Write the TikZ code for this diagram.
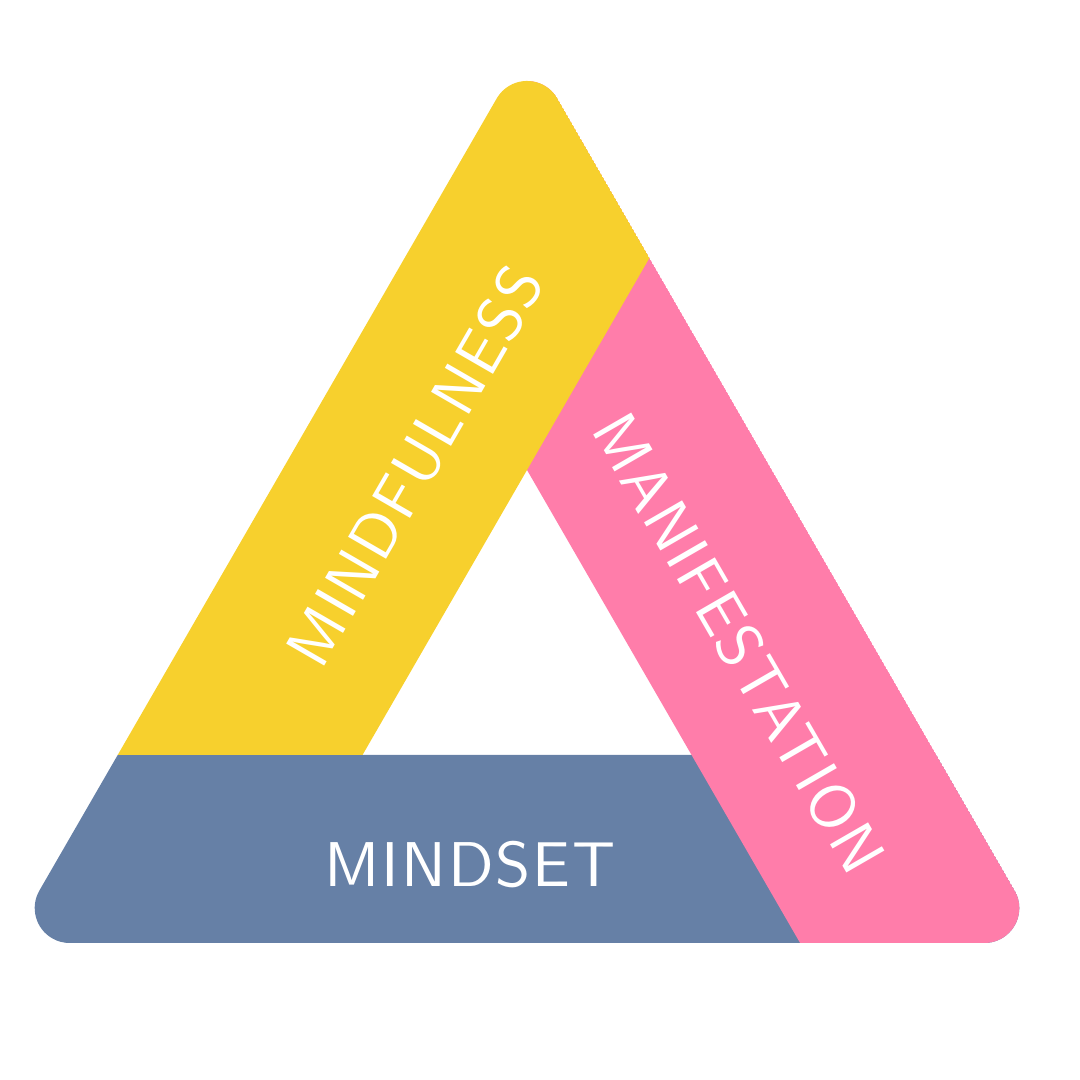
\documentclass[tikz,border=0pt]{standalone}
\usepackage{fontspec}
\newfontfamily\bandfont{lmsans10-regular.otf}[LetterSpace=3]
\usetikzlibrary{calc}
\definecolor{mindyellow}{HTML}{F7D02D}
\definecolor{manipink}{HTML}{FF7DAA}
\definecolor{setblue}{HTML}{6680A6}
\tikzset{
  bandtext/.style={text=white, inner sep=0pt, font=\bandfont\fontsize{18}{20}\selectfont}
}

\begin{document}
\begin{tikzpicture}
  \useasboundingbox (0,0) rectangle (10.8,10.8);
  % corners of the big triangle and of the hole
  \coordinate (top) at (5.27,10.34);
  \coordinate (bl) at (0.091,1.37);
  \coordinate (br) at (10.449,1.37);
  \coordinate (itop) at (5.27,6.10);
  \coordinate (ibl) at (3.625,3.25);
  \coordinate (ibr) at (6.915,3.25);
  \coordinate (lsplit) at (1.177,3.25);
  \coordinate (rsplit) at (9.363,3.25);
  \coordinate (cut) at (6.494,8.22);
  \coordinate (pbot) at (8.001,1.37);

  \begin{scope}
    % rounded outline, arcs of radius 3.5mm at the corners
    \clip ($(top)!0.606cm!(br)$) arc[start angle=30, end angle=150, radius=0.35cm]
      -- ($(bl)!0.606cm!(top)$) arc[start angle=150, end angle=270, radius=0.35cm]
      -- ($(br)!0.606cm!(bl)$) arc[start angle=270, end angle=390, radius=0.35cm]
      -- cycle;
    \fill[setblue] (lsplit) -- (bl) -- (br) -- (rsplit) -- cycle;
    \fill[manipink] (top) -- (br) -- (pbot) -- (itop) -- cycle;
    \fill[mindyellow] (lsplit) -- (top) -- (cut) -- (ibl) -- cycle;
  \end{scope}

  \node[bandtext, rotate=60] (mindful) at (4.15,6.14) {MINDFULNESS};
  \node[bandtext, rotate=-60] (manifest) at (7.39,4.37) {MANIFESTATION};
  \node[bandtext] (mindset) at (4.70,2.15) {MINDSET};
\end{tikzpicture}
\end{document}
